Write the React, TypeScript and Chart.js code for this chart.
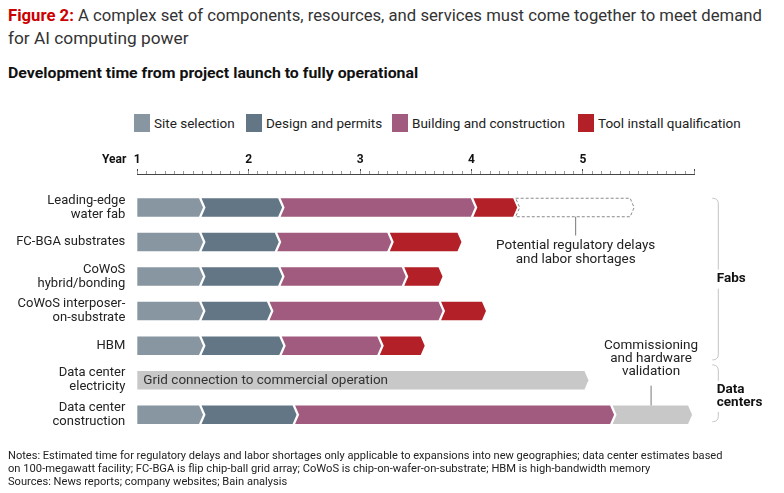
import React, { useEffect, useLayoutEffect, useRef, useState } from "react";
import { Chart, registerables } from "chart.js";

Chart.register(...registerables);

// ---------- data ----------
const rowLabels: (string | string[])[] = [
  ["Leading-edge", "water fab"],
  "FC-BGA substrates",
  ["CoWoS", "hybrid/bonding"],
  ["CoWoS interposer-", "on-substrate"],
  "HBM",
  ["Data center", "electricity"],
  ["Data center", "construction"],
];

const phaseNames = [
  "Site selection",
  "Design and permits",
  "Building and construction",
  "Tool install qualification",
];

// [start year, end year] per row (null = not applicable)
const siteSelection = [[1, 1.59], [1, 1.59], [1, 1.59], [1, 1.59], [1, 1.59], null, [1, 1.59]];
const designPermits = [[1.59, 2.3], [1.59, 2.27], [1.59, 2.3], [1.59, 2.2], [1.59, 2.31], null, [1.59, 2.43]];
const buildingConstruction = [[2.3, 4.03], [2.27, 3.28], [2.3, 3.41], [2.2, 3.74], [2.31, 3.19], null, [2.43, 5.28]];
const toolInstall = [[4.03, 4.41], [3.28, 3.91], [3.41, 3.74], [3.74, 4.13], [3.19, 3.58], null, null];
const regulatoryDelays = [[4.41, 5.46], null, null, null, null, null, null];
const gridConnection = [null, null, null, null, null, [1, 5.05], null];
const commissioning = [null, null, null, null, null, null, [5.28, 5.98]];

const yearTicks = [1, 2, 3, 4, 5, 6];
const yearLabels = ["1", "2", "3", "4", "5", ""];

const gridText = "Grid connection to commercial operation";
const delayNote = ["Potential regulatory delays", "and labor shortages"];
const commissioningNote = ["Commissioning", "and hardware", "validation"];
const groupFabs = ["Fabs"];
const groupDC = ["Data", "centers"];

// ---------- styles ----------
const C_SITE = "#8796a0";
const C_DESIGN = "#627685";
const C_BUILD = "#a15b7e";
const C_TOOL = "#b32027";
const C_GRAY = "#c8c8c8";
const phaseColors = [C_SITE, C_DESIGN, C_BUILD, C_TOOL];
const FONT = "Roboto, 'Noto Sans', sans-serif";

function toPoints(arr: (number[] | null)[]) {
  return arr
    .map((v, i) => (v ? { x: v, y: i } : null))
    .filter((p) => p !== null) as { x: number[]; y: number }[];
}

function chevronPath(ctx: CanvasRenderingContext2D, x0: number, x1: number, yc: number, h: number, notch: boolean) {
  const d = 4;
  const g = 2.5;
  const top = yc - h / 2;
  const bot = yc + h / 2;
  ctx.beginPath();
  if (notch) {
    ctx.moveTo(x0 - d + g, top);
    ctx.lineTo(x1 - d, top);
    ctx.lineTo(x1, yc);
    ctx.lineTo(x1 - d, bot);
    ctx.lineTo(x0 - d + g, bot);
    ctx.lineTo(x0 + g, yc);
  } else {
    ctx.moveTo(x0, top);
    ctx.lineTo(x1 - d, top);
    ctx.lineTo(x1, yc);
    ctx.lineTo(x1 - d, bot);
    ctx.lineTo(x0, bot);
  }
  ctx.closePath();
}

const chevronPlugin = {
  id: "chevrons",
  beforeDatasetDraw() {
    return false;
  },
  afterDatasetsDraw(chart: any) {
    const ctx: CanvasRenderingContext2D = chart.ctx;
    ctx.save();
    chart.data.datasets.forEach((ds: any, di: number) => {
      const meta = chart.getDatasetMeta(di);
      meta.data.forEach((el: any) => {
        const p = el.getProps(["x", "y", "base", "height"], true);
        chevronPath(ctx, p.base, p.x, p.y, p.height, !!ds.notch);
        if (ds.dashed) {
          ctx.fillStyle = "#ffffff";
          ctx.fill();
          ctx.setLineDash([3, 2]);
          ctx.strokeStyle = "#8a8a8a";
          ctx.lineWidth = 1;
          ctx.stroke();
          ctx.setLineDash([]);
        } else {
          ctx.fillStyle = ds.backgroundColor;
          ctx.fill();
        }
        if (ds.innerText) {
          ctx.fillStyle = "#333";
          ctx.font = `13.5px ${FONT}`;
          ctx.textAlign = "left";
          ctx.textBaseline = "middle";
          ctx.fillText(ds.innerText, p.base + 6, p.y + 0.5);
        }
      });
    });
    ctx.restore();
  },
  afterDraw(chart: any) {
    const ctx: CanvasRenderingContext2D = chart.ctx;
    const xs = chart.scales.x;
    const ys = chart.scales.y;
    const area = chart.chartArea;
    const half = 9.25;
    ctx.save();

    // "Year" axis label
    ctx.fillStyle = "#111";
    ctx.font = `bold 12px ${FONT}`;
    ctx.textAlign = "right";
    ctx.textBaseline = "middle";
    ctx.fillText("Year", xs.left - 11, xs.bottom - 14);

    // delay annotation
    const delayEl = chart.getDatasetMeta(4).data[0];
    if (delayEl) {
      const p = delayEl.getProps(["x", "y", "base"], true);
      const cx = (p.x + p.base) / 2;
      ctx.strokeStyle = "#777";
      ctx.lineWidth = 1;
      ctx.beginPath();
      ctx.moveTo(cx, p.y + half);
      ctx.lineTo(cx, p.y + 28);
      ctx.stroke();
      ctx.fillStyle = "#222";
      ctx.font = `13.5px ${FONT}`;
      ctx.textAlign = "center";
      ctx.textBaseline = "middle";
      delayNote.forEach((t, i) => ctx.fillText(t, cx, p.y + 38.5 + i * 13.5));
    }

    // commissioning annotation
    const comEl = chart.getDatasetMeta(6).data[0];
    if (comEl) {
      const p = comEl.getProps(["x", "y", "base"], true);
      const cx = (p.x + p.base) / 2 - 2;
      ctx.strokeStyle = "#777";
      ctx.lineWidth = 1;
      ctx.beginPath();
      ctx.moveTo(cx, p.y - 29);
      ctx.lineTo(cx, p.y - half);
      ctx.stroke();
      ctx.fillStyle = "#222";
      ctx.font = `13.5px ${FONT}`;
      ctx.textAlign = "center";
      ctx.textBaseline = "middle";
      commissioningNote.forEach((t, i) => ctx.fillText(t, cx, p.y - 69.5 + i * 13.4));
    }

    // group brackets
    const bx = area.right + 24;
    const drawBracket = (top: number, bottom: number, lines: string[], lh: number, shift: number) => {
      const mid = (top + bottom) / 2 + shift;
      const gapHalf = (lines.length * lh) / 2 + 3;
      const r = 5;
      ctx.strokeStyle = "#c4c4c4";
      ctx.lineWidth = 1;
      ctx.beginPath();
      ctx.moveTo(bx - 6, top);
      ctx.arcTo(bx, top, bx, top + r, r);
      ctx.lineTo(bx, mid - gapHalf);
      ctx.moveTo(bx, mid + gapHalf);
      ctx.lineTo(bx, bottom - r);
      ctx.arcTo(bx, bottom, bx - 6, bottom, r);
      ctx.lineTo(bx - 6, bottom);
      ctx.stroke();
      ctx.fillStyle = "#111";
      ctx.font = `bold 13.5px ${FONT}`;
      ctx.textAlign = "left";
      ctx.textBaseline = "middle";
      lines.forEach((t, i) =>
        ctx.fillText(t, bx - 1.5, mid - ((lines.length - 1) * lh) / 2 + i * lh)
      );
    };
    drawBracket(ys.getPixelForValue(0) - half, ys.getPixelForValue(4) + half + 5, groupFabs, 13, 0);
    drawBracket(ys.getPixelForValue(5) - half - 6, ys.getPixelForValue(6) + 7, groupDC, 12.5, 3);

    ctx.restore();
  },
};

function FitText({ width, children, style }: { width: number; children: React.ReactNode; style?: React.CSSProperties }) {
  const ref = useRef<HTMLSpanElement>(null);
  const [s, setS] = useState(1);
  useLayoutEffect(() => {
    const measure = () => {
      const el = ref.current;
      if (el && el.offsetWidth) setS(width / el.offsetWidth);
    };
    measure();
    const f = (document as any).fonts;
    if (f && f.ready) f.ready.then(measure);
  }, [width]);
  return (
    <div style={{ whiteSpace: "nowrap", height: "1lh", overflow: "visible", ...style }}>
      <span
        ref={ref}
        style={{ display: "inline-block", transform: `scaleX(${s})`, transformOrigin: "left center" }}
      >
        {children}
      </span>
    </div>
  );
}

function GanttChart() {
  const canvasRef = useRef<HTMLCanvasElement>(null);
  useEffect(() => {
    const canvas = canvasRef.current;
    if (!canvas) return;
    const datasets: any[] = [
      { label: phaseNames[0], data: toPoints(siteSelection), backgroundColor: C_SITE, notch: false },
      { label: phaseNames[1], data: toPoints(designPermits), backgroundColor: C_DESIGN, notch: true },
      { label: phaseNames[2], data: toPoints(buildingConstruction), backgroundColor: C_BUILD, notch: true },
      { label: phaseNames[3], data: toPoints(toolInstall), backgroundColor: C_TOOL, notch: true },
      { label: "Regulatory delays", data: toPoints(regulatoryDelays), backgroundColor: "#ffffff", notch: true, dashed: true },
      { label: "Grid connection", data: toPoints(gridConnection), backgroundColor: C_GRAY, notch: false, innerText: gridText },
      { label: "Commissioning", data: toPoints(commissioning), backgroundColor: C_GRAY, notch: true },
    ];
    const chart = new Chart(canvas, {
      type: "bar",
      data: { datasets },
      options: {
        animation: false,
        responsive: true,
        maintainAspectRatio: false,
        indexAxis: "y",
        layout: { padding: { left: 0, right: 81.7, top: 0, bottom: 0 } },
        events: [],
        plugins: { legend: { display: false }, tooltip: { enabled: false } },
        datasets: { bar: { grouped: false, barThickness: 18.5 } } as any,
        scales: {
          x: {
            type: "linear",
            position: "top",
            min: 1,
            max: 6,
            weight: 1,
            afterBuildTicks: (s: any) => {
              s.ticks = yearTicks.map((v) => ({ value: v }));
            },
            afterFit: (s: any) => {
              s.height = 34;
            },
            ticks: {
              autoSkip: false,
              maxRotation: 0,
              padding: 2,
              color: "#111",
              font: { family: FONT, size: 12, weight: "bold" },
              callback: (v: any) => yearLabels[yearTicks.indexOf(Number(v))] ?? "",
            },
            grid: { drawOnChartArea: false, drawTicks: true, tickLength: 5, tickColor: "#444", tickWidth: 1 },
            border: { display: true, color: "#444", width: 1 },
          },
          x2: {
            type: "linear",
            position: "top",
            min: 1,
            max: 6,
            weight: 0,
            afterBuildTicks: (s: any) => {
              const t: { value: number }[] = [];
              for (let m = 0; m <= 60; m++) t.push({ value: 1 + m / 12 });
              s.ticks = t;
            },
            afterFit: (s: any) => {
              s.height = 0;
            },
            ticks: { display: false },
            grid: { drawOnChartArea: false, drawTicks: true, tickLength: 3, tickColor: "#9a9a9a", tickWidth: 1 },
            border: { display: false },
          },
          y: {
            type: "linear",
            reverse: true,
            offset: false,
            min: -0.97,
            max: 6.5,
            afterBuildTicks: (s: any) => {
              s.ticks = rowLabels.map((_, i) => ({ value: i }));
            },
            afterFit: (s: any) => {
              s.width = 129.3;
            },
            ticks: {
              padding: 12,
              color: "#222",
              font: { family: FONT, size: 13, lineHeight: 1.08 },
              callback: (v: any) => rowLabels[Number(v)] as any,
            },
            grid: { display: false, drawTicks: false, offset: false },
            border: { display: false },
          },
        } as any,
      },
      plugins: [chevronPlugin as any],
    });
    const f = (document as any).fonts;
    if (f && f.ready) f.ready.then(() => chart.update());
    return () => chart.destroy();
  }, []);
  return (
    <div style={{ position: "absolute", left: 0, top: 132, width: 768, height: 318 }}>
      <canvas ref={canvasRef} />
    </div>
  );
}

const legendLefts = [126, 238, 384, 570];

export default function App() {
  useEffect(() => {
    document.body.style.overflow = "hidden";
  }, []);
  return (
    <div style={{ position: "relative", width: 768, height: 485, fontFamily: FONT, color: "#222", overflow: "hidden" }}>
      <div style={{ position: "absolute", left: 0, top: -4, fontSize: 17, lineHeight: "23px", color: "#333" }}>
        <FitText width={754}>
          <span style={{ color: "#cc0000", fontWeight: 700 }}>Figure 2:</span> A complex set of components, resources,
          and services must come together to meet demand
        </FitText>
        <FitText width={181}>for AI computing power</FitText>
      </div>
      <div style={{ position: "absolute", left: 0, top: 56, fontSize: 14, lineHeight: "18px", fontWeight: 700, color: "#111" }}>
        <FitText width={410}>Development time from project launch to fully operational</FitText>
      </div>
      {phaseNames.map((name, i) => (
        <div
          key={name}
          style={{
            position: "absolute",
            left: legendLefts[i],
            top: 105.5,
            height: 18,
            display: "flex",
            alignItems: "center",
            whiteSpace: "nowrap",
            fontSize: 13.5,
            color: "#222",
          }}
        >
          <span style={{ display: "inline-block", width: 16, height: 18, background: phaseColors[i], marginRight: 4 }} />
          <span>{name}</span>
        </div>
      ))}
      <GanttChart />
      <div style={{ position: "absolute", left: 0, top: 441, fontSize: 11.5, lineHeight: "13px", color: "#222" }}>
        <FitText width={714}>
          Notes: Estimated time for regulatory delays and labor shortages only applicable to expansions into new
          geographies; data center estimates based
        </FitText>
        <FitText width={642}>
          on 100-megawatt facility; FC-BGA is flip chip-ball grid array; CoWoS is chip-on-wafer-on-substrate; HBM is
          high-bandwidth memory
        </FitText>
        <FitText width={279}>Sources: News reports; company websites; Bain analysis</FitText>
      </div>
    </div>
  );
}
